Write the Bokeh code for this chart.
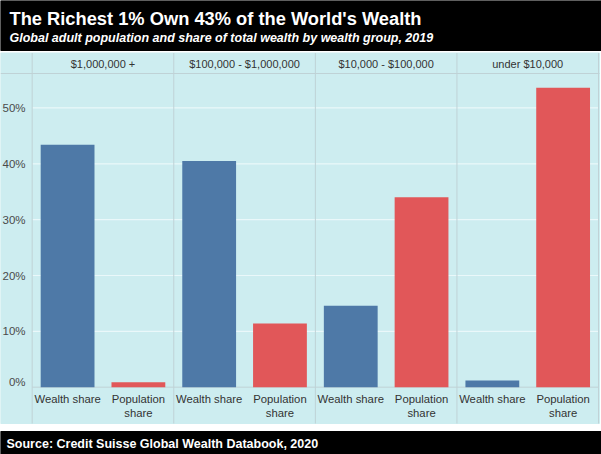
from bokeh.plotting import figure
from bokeh.models import Range1d, ColumnDataSource
from bokeh.core.properties import value
from bokeh.embed import file_html
from bokeh.resources import INLINE

# ---- data -------------------------------------------------------------
groups = ["$1,000,000 +", "$100,000 - $1,000,000", "$10,000 - $100,000", "under $10,000"]
measures = ["Wealth share", "Population\nshare"]
wealth_share = [43.4, 40.5, 14.6, 1.2]        # % of total global wealth
population_share = [0.9, 11.4, 34.0, 53.6]    # % of global adult population
y_ticks = [0, 10, 20, 30, 40, 50]
y_tick_labels = ["0%", "10%", "20%", "30%", "40%", "50%"]

TITLE = "The Richest 1% Own 43% of the World's Wealth"
SUBTITLE = "Global adult population and share of total wealth by wealth group, 2019"
SOURCE = "Source: Credit Suisse Global Wealth Databook, 2020"

# ---- styling / layout (pixels) ----------------------------------------
W, H = 601, 454
FONT = value("Liberation Sans")
BLUE = "#4E79A7"
RED = "#E15759"
PANEL_BG = "#CDEDF0"
GRID = "#EAF8FA"
RULE = "#BFD2D6"

PLOT_LEFT = 31.7          # left edge of first panel
CAT_PX = 70.79            # width of one bar slot
BASE_PX = 386.7           # pixel row of 0 %
PCT_PX = 5.585            # pixels per percentage point
HEADER_TOP, HEADER_BOTTOM = 52.5, 73.0
AREA_BOTTOM = 423.0
AREA_RIGHT = 599.0
FOOTER_TOP = 431.0

x_start = -PLOT_LEFT / CAT_PX
x_end = (W - PLOT_LEFT) / CAT_PX
y_start = -(H - BASE_PX) / PCT_PX
y_end = BASE_PX / PCT_PX

p = figure(width=W, height=H,
           x_range=Range1d(x_start, x_end), y_range=Range1d(y_start, y_end),
           x_axis_location=None, y_axis_location=None,
           output_backend="svg", toolbar_location=None,
           min_border=0, background_fill_color="white",
           border_fill_color="white", outline_line_color=None)
p.xgrid.visible = False
p.ygrid.visible = False
# pixel-space ranges for the chrome (bands, titles)
p.extra_x_ranges = {"px": Range1d(0, W)}
p.extra_y_ranges = {"px": Range1d(H, 0)}
PX = dict(x_range_name="px", y_range_name="px")

# ---- bands ------------------------------------------------------------
p.quad(left=[0], right=[W], top=[0], bottom=[50], color="black", **PX)
p.quad(left=[0], right=[AREA_RIGHT], top=[HEADER_TOP], bottom=[AREA_BOTTOM],
       color=PANEL_BG, **PX)
p.quad(left=[0], right=[W], top=[FOOTER_TOP], bottom=[H], color="black", **PX)

p.text(x=[9], y=[18], text=[TITLE], text_font=FONT, text_font_style="bold",
       text_font_size="18.3px", text_color="white", text_baseline="middle", **PX)
p.text(x=[9], y=[37.5], text=[SUBTITLE], text_font=FONT, text_font_style="bold italic",
       text_font_size="12.5px", text_color="white", text_baseline="middle", **PX)
p.text(x=[6], y=[443], text=[SOURCE], text_font=FONT, text_font_style="bold",
       text_font_size="12.5px", text_color="white", text_baseline="middle", **PX)

# ---- gridlines, rules -------------------------------------------------
grid_vals = [t for t in y_ticks if t > 0]
p.segment(x0=[PLOT_LEFT] * len(grid_vals), x1=[AREA_RIGHT - 1] * len(grid_vals),
          y0=grid_vals, y1=grid_vals, line_color=GRID, line_width=1.2,
          x_range_name="px")
p.segment(x0=[PLOT_LEFT], x1=[AREA_RIGHT - 1], y0=[0], y1=[0],
          line_color=RULE, line_width=1, x_range_name="px")
p.segment(x0=[0], x1=[AREA_RIGHT], y0=[HEADER_BOTTOM], y1=[HEADER_BOTTOM],
          line_color=RULE, line_width=1, **PX)
seps = [2 * i for i in range(len(groups) + 1)]
p.segment(x0=seps, x1=seps, y0=[HEADER_TOP] * len(seps), y1=[AREA_BOTTOM] * len(seps),
          line_color=RULE, line_width=1, y_range_name="px")

# ---- bars -------------------------------------------------------------
src = ColumnDataSource(dict(
    xw=[2 * i + 0.5 for i in range(len(groups))],
    xp=[2 * i + 1.5 for i in range(len(groups))],
    wealth=wealth_share, pop=population_share))
p.vbar(x="xw", top="wealth", bottom=0, width=0.76, source=src,
       fill_color=BLUE, line_color=None)
p.vbar(x="xp", top="pop", bottom=0, width=0.76, source=src,
       fill_color=RED, line_color=None)

# ---- labels -----------------------------------------------------------
p.text(x=[2 * i + 1 for i in range(len(groups))], y=[63] * len(groups), text=groups,
       text_font=FONT, text_font_size="11px", text_color="#333333",
       text_align="center", text_baseline="middle", y_range_name="px")

cat_x = [2 * i + j + 0.5 for i in range(len(groups)) for j in range(len(measures))]
cat_text = [m for _ in groups for m in measures]
p.text(x=cat_x, y=[392.5] * len(cat_x), text=cat_text, text_font=FONT,
       text_font_size="11.3px", text_color="#333333", text_align="center",
       text_baseline="top", text_line_height=1.2, y_range_name="px")

tick_src = ColumnDataSource(dict(
    x=[25] * len(y_ticks), y=y_ticks, t=y_tick_labels,
    off=[-5.5 if v == 0 else 0 for v in y_ticks]))
p.text(x="x", y="y", text="t", y_offset="off", source=tick_src, text_font=FONT,
       text_font_size="11.5px", text_color="#4a4a4a", text_align="right",
       text_baseline="middle", x_range_name="px")

open("out.html", "w").write(file_html(p, INLINE))
